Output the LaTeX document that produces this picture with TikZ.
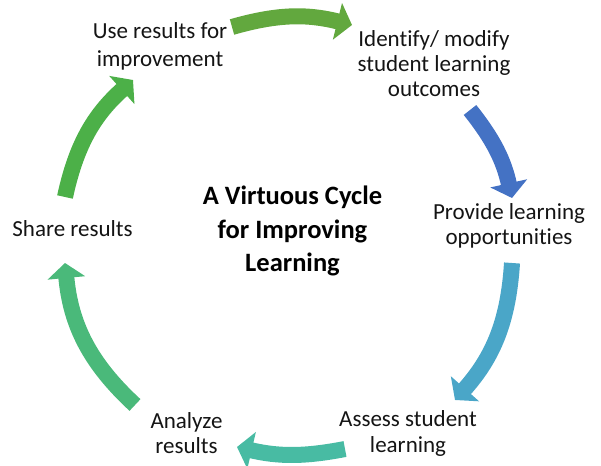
\documentclass[tikz,border=0pt]{standalone}
\usepackage{fontspec}
\setmainfont{Carlito}[Ligatures=NoCommon]
\usetikzlibrary{arrows.meta}
\definecolor{cTop}{RGB}{98,168,62}
\definecolor{cBlue}{RGB}{68,114,196}
\definecolor{cSky}{RGB}{74,166,200}
\definecolor{cTeal}{RGB}{72,187,163}
\definecolor{cMint}{RGB}{74,185,122}
\definecolor{cGreen}{RGB}{76,176,72}
\definecolor{txt}{RGB}{20,20,20}
\tikzset{
  cyc/.style={line width=16pt, -{Triangle[width=37pt,length=15pt]}},
  lbl/.style={font=\fontsize{23}{25}\selectfont, text=txt, align=center, inner sep=0pt, anchor=base},
  ttl/.style={font=\fontsize{26.5}{33.5}\selectfont\bfseries, text=black, align=center, inner sep=0pt, anchor=base}
}
\begin{document}
\begin{tikzpicture}[x=1pt,y=1pt]
\useasboundingbox (0,0) rectangle (601,465);
% labels (anchor base = baseline of last line)
\node[lbl, font=\fontsize{23}{28}\selectfont] (use) at (160,398) {Use results for\\improvement};
\node[lbl] (ident) at (434,368) {Identify/ modify\\student learning\\outcomes};
\node[lbl] (prov) at (509,220) {Provide learning\\opportunities};
\node[lbl] (share) at (72.5,228) {Share results};
\node[lbl] (assess) at (408,13) {Assess student\\learning};
\node[lbl] (anal) at (186.5,12) {Analyze\\results};
\node[ttl] (title) at (292.5,193) {A Virtuous Cycle\\for Improving\\Learning};
% arrow ends
\coordinate (a1) at (232,438); \coordinate (b1) at (352,440);
\coordinate (a2) at (470,355); \coordinate (b2) at (512,267);
\coordinate (a3) at (512,202); \coordinate (b3) at (455,65);
\coordinate (a4) at (345,16);  \coordinate (b4) at (237,18);
\coordinate (a5) at (135,60);  \coordinate (b5) at (65,202);
\coordinate (a6) at (65,268);  \coordinate (b6) at (133,385);
% arrows
\draw[cyc, cTop]   (a1) to[bend left=15] (b1);
\draw[cyc, cBlue]  (a2) to[bend left=13] (b2);
\draw[cyc, cSky]   (a3) to[bend left=19] (b3);
\draw[cyc, cTeal]  (a4) to[bend left=12] (b4);
\draw[cyc, cMint]  (a5) to[bend left=21] (b5);
\draw[cyc, cGreen] (a6) to[bend left=18] (b6);
\end{tikzpicture}
\end{document}
